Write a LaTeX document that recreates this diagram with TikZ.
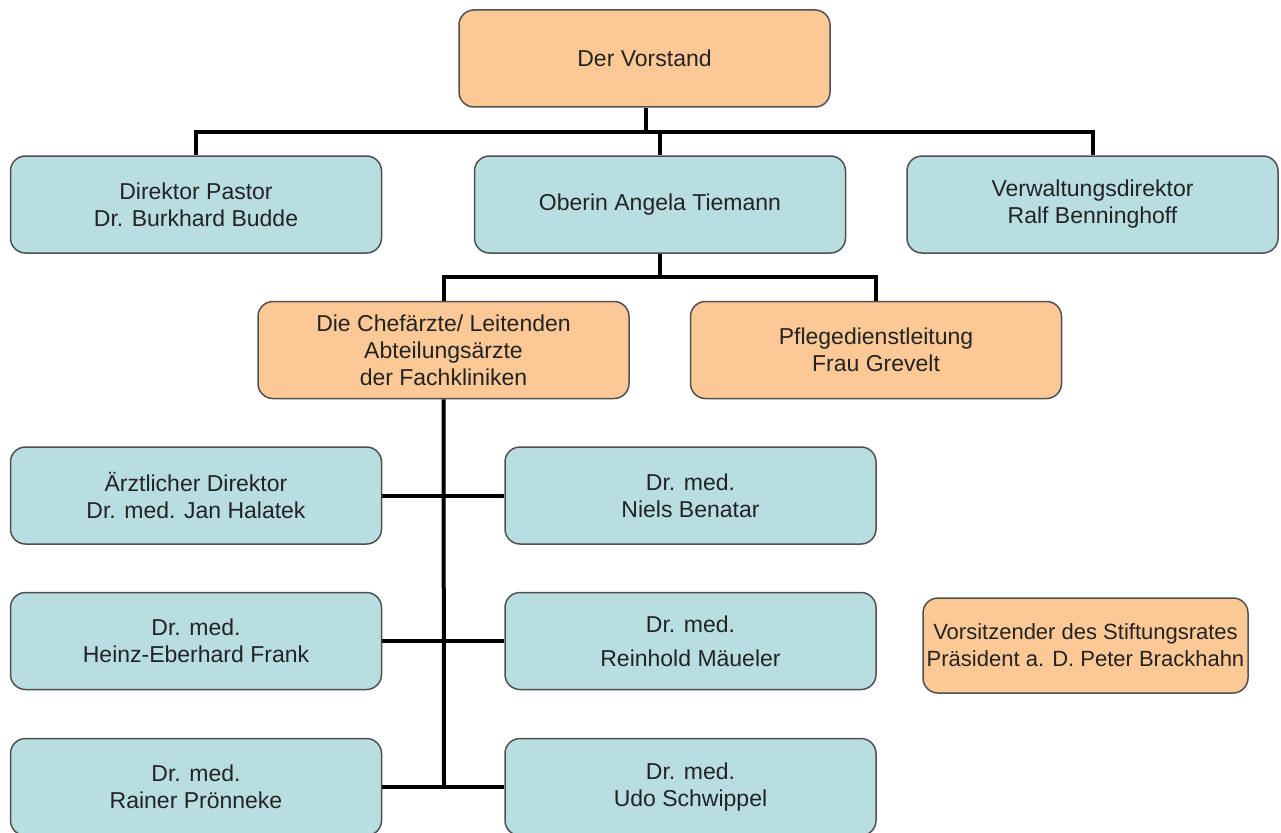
\documentclass[tikz,border=0pt]{standalone}
\usepackage{fontspec}
\setmainfont{Liberation Sans}
\definecolor{orangefill}{RGB}{252,201,150}
\definecolor{bluefill}{RGB}{184,222,225}
\definecolor{boxline}{RGB}{80,80,80}
\definecolor{txt}{RGB}{35,35,35}
\begin{document}
\begin{tikzpicture}[x=1pt,y=-1pt,
  box/.style={draw=boxline, line width=1.5pt, rounded corners=15pt, align=center,
    inner sep=0pt, minimum width=371pt, minimum height=97pt, text=txt,
    font=\fontsize{23}{27}\selectfont},
  obox/.style={box, fill=orangefill},
  bbox/.style={box, fill=bluefill},
  conn/.style={draw=black, line width=4pt}]
\useasboundingbox (0,0) rectangle (1281,832);
\clip (0,0) rectangle (1281,832);
\fill[white] (0,0) rectangle (1281,832);

\node[obox] (vorstand) at (644.5,58.5) {Der Vorstand};
\node[bbox] (direktor) at (196,204.5) {Direktor Pastor\\Dr. Burkhard Budde};
\node[bbox] (oberin) at (660,204.5) {Oberin Angela Tiemann};
\node[bbox] (verwaltung) at (1092.5,204.5) {Verwaltungsdirektor\\Ralf Benninghoff};
\node[obox] (chef) at (443.5,350) {Die Chefärzte/ Leitenden\\Abteilungsärzte\\der Fachkliniken};
\node[obox] (pflege) at (876,350) {Pflegedienstleitung\\Frau Grevelt};
\node[bbox] (aerzt) at (196,495.5) {Ärztlicher Direktor\\Dr. med. Jan Halatek};
\node[bbox] (niels) at (690.5,495.5) {Dr. med.\\Niels Benatar};
\node[bbox] (heinz) at (196,641) {Dr. med.\\Heinz-Eberhard Frank};
\node[bbox] (reinhold) at (690.5,641) {Dr. med.\\[7pt]Reinhold Mäueler};
\node[obox, minimum width=325pt, minimum height=95pt, font=\fontsize{22}{27}\selectfont] (vorsitz) at (1085.5,645.5) {Vorsitzender des Stiftungsrates\\Präsident a. D. Peter Brackhahn};
\node[bbox] (rainer) at (196,787) {Dr. med.\\Rainer Prönneke};
\node[bbox] (udo) at (690.5,787) {Dr. med.\\Udo Schwippel};

\coordinate (j1) at (646,132);
\coordinate (j2) at (660,277);
\coordinate (j3) at (444,787);

\draw[conn] (vorstand.south -| j1) -- (j1);
\draw[conn] (direktor.north) |- (j1) -| (verwaltung.north);
\draw[conn] (j1 -| oberin.north) -- (oberin.north);
\draw[conn] (oberin.south) -- (j2);
\draw[conn] (chef.north) |- (j2) -| (pflege.north);
\draw[conn] (chef.south) -- (j3);
\draw[conn] (aerzt.east) -- (niels.west);
\draw[conn] (heinz.east) -- (reinhold.west);
\draw[conn] (rainer.east) -- (udo.west);
\end{tikzpicture}
\end{document}
